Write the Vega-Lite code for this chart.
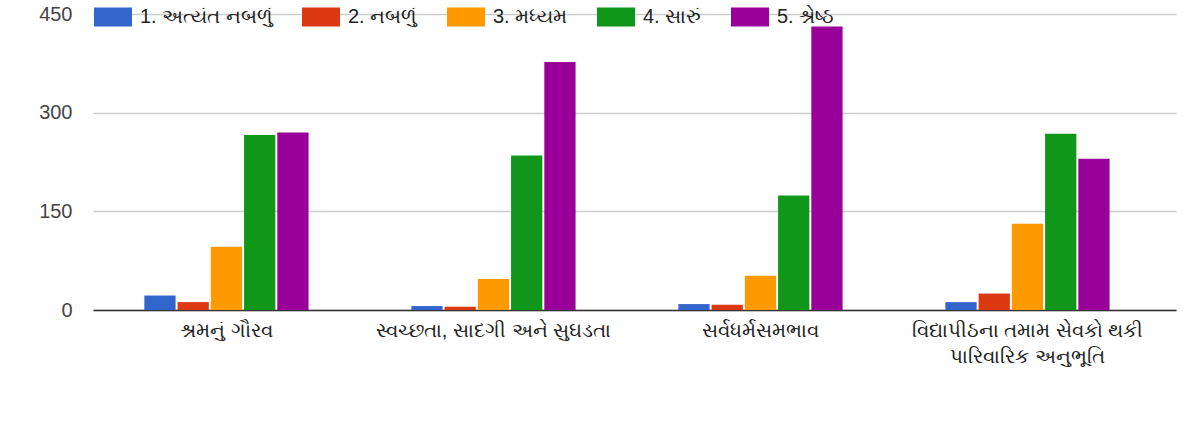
{
  "$schema": "https://vega.github.io/schema/vega-lite/v6.json",
  "width": 1083,
  "height": 296,
  "autosize": {"type": "none"},
  "padding": {"left": 93, "top": 14, "right": 17, "bottom": 115},
  "background": "white",
  "config": {
    "view": {"stroke": null},
    "font": "Liberation Sans"
  },
  "data": {
    "values": [
      {"category": "શ્રમનું ગૌરવ", "rating": "1. અત્યંત નબળું", "count": 22},
      {"category": "શ્રમનું ગૌરવ", "rating": "2. નબળું", "count": 12},
      {"category": "શ્રમનું ગૌરવ", "rating": "3. મધ્યમ", "count": 96},
      {"category": "શ્રમનું ગૌરવ", "rating": "4. સારું", "count": 266},
      {"category": "શ્રમનું ગૌરવ", "rating": "5. શ્રેષ્ઠ", "count": 270},
      {"category": "સ્વચ્છતા, સાદગી અને સુઘડતા", "rating": "1. અત્યંત નબળું", "count": 6},
      {"category": "સ્વચ્છતા, સાદગી અને સુઘડતા", "rating": "2. નબળું", "count": 5},
      {"category": "સ્વચ્છતા, સાદગી અને સુઘડતા", "rating": "3. મધ્યમ", "count": 47},
      {"category": "સ્વચ્છતા, સાદગી અને સુઘડતા", "rating": "4. સારું", "count": 235},
      {"category": "સ્વચ્છતા, સાદગી અને સુઘડતા", "rating": "5. શ્રેષ્ઠ", "count": 377},
      {"category": "સર્વધર્મસમભાવ", "rating": "1. અત્યંત નબળું", "count": 9},
      {"category": "સર્વધર્મસમભાવ", "rating": "2. નબળું", "count": 8},
      {"category": "સર્વધર્મસમભાવ", "rating": "3. મધ્યમ", "count": 52},
      {"category": "સર્વધર્મસમભાવ", "rating": "4. સારું", "count": 174},
      {"category": "સર્વધર્મસમભાવ", "rating": "5. શ્રેષ્ઠ", "count": 431},
      {"category": "વિદ્યાપીઠના તમામ સેવકો થકી પારિવારિક અનુભૂતિ", "rating": "1. અત્યંત નબળું", "count": 12},
      {"category": "વિદ્યાપીઠના તમામ સેવકો થકી પારિવારિક અનુભૂતિ", "rating": "2. નબળું", "count": 25},
      {"category": "વિદ્યાપીઠના તમામ સેવકો થકી પારિવારિક અનુભૂતિ", "rating": "3. મધ્યમ", "count": 131},
      {"category": "વિદ્યાપીઠના તમામ સેવકો થકી પારિવારિક અનુભૂતિ", "rating": "4. સારું", "count": 268},
      {"category": "વિદ્યાપીઠના તમામ સેવકો થકી પારિવારિક અનુભૂતિ", "rating": "5. શ્રેષ્ઠ", "count": 230}
    ]
  },
  "mark": {"type": "bar"},
  "encoding": {
    "x": {
      "field": "category",
      "type": "nominal",
      "sort": null,
      "scale": {"paddingInner": 0.385, "paddingOuter": 0.2205, "align": 0.436},
      "axis": {
        "title": null,
        "labelAngle": 0,
        "labelFontSize": 20,
        "labelColor": "#222222",
        "labelPadding": 10,
        "labelLineHeight": 26,
        "labelLimit": 400,
        "ticks": false,
        "domain": true,
        "domainColor": "#333333",
        "domainWidth": 1.5,
        "labelExpr": "datum.label == 'વિદ્યાપીઠના તમામ સેવકો થકી પારિવારિક અનુભૂતિ' ? ['વિદ્યાપીઠના તમામ સેવકો થકી', 'પારિવારિક અનુભૂતિ'] : datum.label"
      }
    },
    "xOffset": {
      "field": "rating",
      "type": "nominal",
      "scale": {"paddingInner": 0.06}
    },
    "y": {
      "field": "count",
      "type": "quantitative",
      "scale": {"domain": [0, 450], "nice": false},
      "axis": {
        "title": null,
        "values": [0, 150, 300, 450],
        "labelFontSize": 20,
        "labelColor": "#444444",
        "labelPadding": 21,
        "ticks": false,
        "domain": false,
        "gridColor": "#cccccc",
        "gridWidth": 1.5
      }
    },
    "color": {
      "field": "rating",
      "type": "nominal",
      "scale": {"range": ["#3366cc", "#dc3912", "#ff9900", "#109618", "#990099"]},
      "legend": {
        "title": null,
        "orient": "none",
        "direction": "horizontal",
        "legendX": 1,
        "legendY": -16,
        "symbolType": "M-1,-0.5H1V0.5H-1Z",
        "symbolSize": 1444,
        "symbolStrokeWidth": 0,
        "labelFontSize": 20,
        "labelColor": "#222222",
        "labelOffset": 8,
        "columnPadding": 29,
        "labelLimit": 300
      }
    }
  }
}
